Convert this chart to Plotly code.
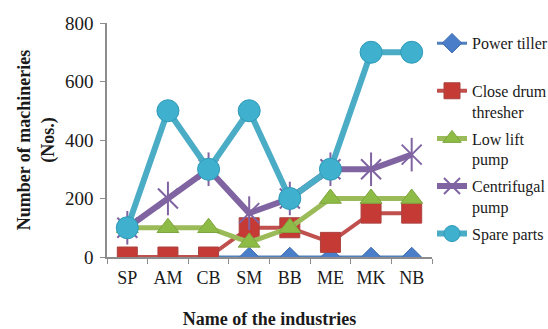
import plotly.graph_objects as go

industries = ["SP", "AM", "CB", "SM", "BB", "ME", "MK", "NB"]
power_tiller = [0, 0, 0, 0, 0, 0, 0, 0]
close_drum_thresher = [0, 0, 0, 100, 100, 50, 150, 150]
low_lift_pump = [100, 100, 100, 50, 100, 200, 200, 200]
centrifugal_pump = [100, 200, 300, 150, 200, 300, 300, 350]
spare_parts = [100, 500, 300, 500, 200, 300, 700, 700]
y_ticks = [0, 200, 400, 600, 800]

serif = "Liberation Serif"
ink = "#1a1a1a"

fig = go.Figure()

fig.add_trace(go.Scatter(
    x=industries, y=power_tiller, name="Power tiller<br> ", legendgroup="a",
    mode="lines+markers", line=dict(color="#4F81BD", width=3),
    marker=dict(symbol="diamond", size=15, color="#4A7EC8",
                line=dict(color="#3D6BAE", width=1)),
))
fig.add_trace(go.Scatter(
    x=industries, y=close_drum_thresher, name="Close drum<br>thresher", legendgroup="b",
    mode="lines+markers", line=dict(color="#C0504D", width=4),
    marker=dict(symbol="square", size=20, color="#C63A36",
                line=dict(color="#A9423F", width=1)),
))
fig.add_trace(go.Scatter(
    x=industries, y=low_lift_pump, name="Low lift<br>pump", legendgroup="c",
    mode="lines+markers", line=dict(color="#9BBB59", width=5),
    marker=dict(symbol="triangle-up", size=19, color="#8DBB45",
                line=dict(color="#7FA53F", width=1)),
))
fig.add_trace(go.Scatter(
    x=industries, y=centrifugal_pump, name="Centrifugal<br>pump", legendgroup="d",
    mode="lines+markers", line=dict(color="#8064A2", width=6),
    marker=dict(symbol="x-thin-open", size=20, color="#8064A2",
                line=dict(color="#8064A2", width=2)),
))
fig.add_trace(go.Scatter(
    x=industries, y=centrifugal_pump, legendgroup="d", showlegend=False,
    mode="markers", hoverinfo="skip",
    marker=dict(symbol="line-ns-open", size=24, color="#8064A2",
                line=dict(color="#8064A2", width=2)),
))
fig.add_trace(go.Scatter(
    x=industries, y=spare_parts, name="Spare parts", legendgroup="e",
    mode="lines+markers", line=dict(color="#4BACC6", width=6),
    marker=dict(symbol="circle", size=22, color="#3FB0CD",
                line=dict(color="#2E9AB8", width=1)),
))

fig.update_layout(
    width=548, height=329,
    margin=dict(l=107, r=116, t=23, b=72, autoexpand=False),
    paper_bgcolor="white", plot_bgcolor="white",
    font=dict(family=serif, color=ink),
    showlegend=True,
    legend=dict(
        x=1.0, xanchor="left", y=0.986, yanchor="top",
        font=dict(family=serif, size=16, color=ink),
        valign="top", tracegroupgap=3, itemsizing="trace",
        bgcolor="rgba(0,0,0,0)", maxheight=320,
    ),
    xaxis=dict(
        type="category", categoryorder="array", categoryarray=industries,
        range=[-0.5, len(industries) - 0.5],
        showline=True, linecolor="#8c8c8c", linewidth=1.5,
        ticks="outside", tickson="boundaries", ticklen=5, tickcolor="#8c8c8c",
        tickangle=0, automargin=False, ticklabelstandoff=4,
        tickfont=dict(family=serif, size=18, color=ink),
        showgrid=False, zeroline=False,
        title=dict(text="<b>Name of the industries</b>", standoff=34,
                   font=dict(family=serif, size=18, color=ink)),
    ),
    yaxis=dict(
        range=[0, 800], tickvals=y_ticks, automargin=False,
        showline=True, linecolor="#8c8c8c", linewidth=1.5,
        ticks="outside", ticklen=5, tickcolor="#8c8c8c", ticklabelstandoff=3,
        tickfont=dict(family=serif, size=19, color=ink),
        showgrid=False, zeroline=False,
        title=dict(text="<b>Number of machineries<br>(Nos.)</b>", standoff=6,
                   font=dict(family=serif, size=18, color=ink)),
    ),
)

fig.write_html("out.html")
